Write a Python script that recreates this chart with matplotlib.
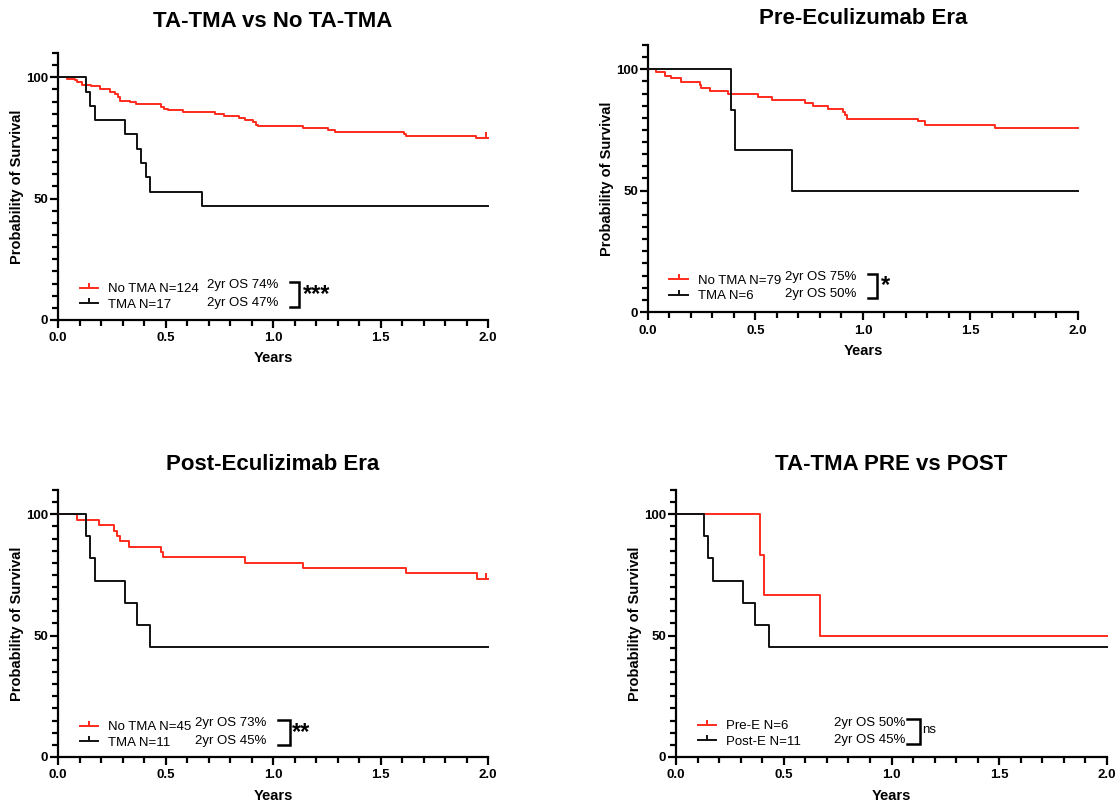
import matplotlib.pyplot as plt
from matplotlib.lines import Line2D
from matplotlib.path import Path
from matplotlib.ticker import MultipleLocator, FormatStrFormatter

plt.rcParams.update({
    "font.family": ["Liberation Sans", "DejaVu Sans"],
    "font.size": 10,
    "axes.linewidth": 1.6,
})

RED = '#FF2B1C'
BLACK = '#111111'
END = 2.0

# censor mark: short vertical tick pointing up from the curve
CENSOR = Path([(0, 0), (0, 1)], [Path.MOVETO, Path.LINETO])

# --- TA-TMA vs No TA-TMA ---
a_notma_t = [0, 0.04, 0.08, 0.09, 0.11, 0.155, 0.195, 0.24, 0.265, 0.28, 0.29,
             0.335, 0.365, 0.48, 0.495, 0.51, 0.58, 0.73, 0.77, 0.84, 0.87,
             0.905, 0.92, 0.93, 1.14, 1.255, 1.29, 1.61, 1.62, 1.945]
a_notma_s = [100, 99.3, 98.9, 97.9, 96.8, 96.2, 95.0, 93.8, 93.2, 92.0, 90.4,
             89.9, 88.9, 87.8, 87.0, 86.3, 85.5, 84.7, 84.0, 83.2, 82.2,
             81.4, 80.5, 79.9, 79.0, 78.4, 77.5, 76.5, 75.8, 74.9]
a_notma_cens = [1.99]
a_tma_t = [0, 0.13, 0.147, 0.171, 0.31, 0.367, 0.388, 0.408, 0.429, 0.67]
a_tma_s = [100, 94.1, 88.2, 82.4, 76.5, 70.6, 64.7, 58.8, 52.9, 47.1]

# --- Pre-Eculizumab Era ---
b_notma_t = [0, 0.039, 0.078, 0.109, 0.155, 0.24, 0.248, 0.287, 0.372, 0.512,
             0.578, 0.729, 0.767, 0.837, 0.907, 0.915, 0.926, 1.256, 1.287, 1.612]
b_notma_s = [100, 98.7, 97.4, 96.2, 94.9, 93.7, 92.4, 91.1, 89.9, 88.6,
             87.3, 86.1, 84.8, 83.5, 82.3, 81.0, 79.7, 78.5, 77.2, 75.9]
tma_pre_t = [0, 0.388, 0.406, 0.67]
tma_pre_s = [100, 83.3, 66.7, 50.0]

# --- Post-Eculizimab Era ---
c_notma_t = [0, 0.088, 0.189, 0.26, 0.274, 0.287, 0.329, 0.481, 0.488, 0.871,
             1.14, 1.62, 1.949]
c_notma_s = [100, 97.8, 95.6, 93.3, 91.1, 88.9, 86.7, 84.4, 82.2, 80.0,
             77.8, 75.6, 73.3]
c_notma_cens = [1.99]
tma_post_t = [0, 0.129, 0.147, 0.171, 0.31, 0.367, 0.429]
tma_post_s = [100, 90.9, 81.8, 72.7, 63.6, 54.5, 45.5]

panels = [
    dict(title="TA-TMA vs No TA-TMA", rect=[0.0519, 0.603, 0.3846, 0.3313], ty=1.118,
         curves=[(a_notma_t, a_notma_s, a_notma_cens, RED, "No TMA N=124", "2yr OS 74%"),
                 (a_tma_t, a_tma_s, [], BLACK, "TMA N=17", "2yr OS 47%")],
         rows=(0.130, 0.064), os_x=0.347, br=(0.540, 0.560), sig="***", sig_x=0.570),
    dict(title="Pre-Eculizumab Era", rect=[0.5796, 0.6129, 0.3846, 0.3313], ty=1.098,
         curves=[(b_notma_t, b_notma_s, [], RED, "No TMA N=79", "2yr OS 75%"),
                 (tma_pre_t, tma_pre_s, [], BLACK, "TMA N=6", "2yr OS 50%")],
         rows=(0.131, 0.066), os_x=0.319, br=(0.512, 0.533), sig="*", sig_x=0.542),
    dict(title="Post-Eculizimab Era", rect=[0.0519, 0.0608, 0.3846, 0.3313], ty=1.094,
         curves=[(c_notma_t, c_notma_s, c_notma_cens, RED, "No TMA N=45", "2yr OS 73%"),
                 (tma_post_t, tma_post_s, [], BLACK, "TMA N=11", "2yr OS 45%")],
         rows=(0.126, 0.060), os_x=0.319, br=(0.512, 0.540), sig="**", sig_x=0.544),
    dict(title="TA-TMA PRE vs POST", rect=[0.6047, 0.0608, 0.3855, 0.3313], ty=1.094,
         curves=[(tma_pre_t, tma_pre_s, [], RED, "Pre-E N=6", "2yr OS 50%"),
                 (tma_post_t, tma_post_s, [], BLACK, "Post-E N=11", "2yr OS 45%")],
         rows=(0.128, 0.064), os_x=0.367, br=(0.536, 0.565), sig="ns", sig_x=0.572),
]


def surv_at(t, s, x):
    val = s[0]
    for ti, si in zip(t, s):
        if ti <= x:
            val = si
    return val


fig = plt.figure(figsize=(11.18, 8.06), dpi=100)

for p in panels:
    ax = fig.add_axes(p["rect"])
    handles = []
    labels = []
    for t, s, cens, col, lab, os_txt in p["curves"]:
        ax.step(t + [END], s + [s[-1]], where='post', color=col, lw=1.4, clip_on=False, zorder=3)
        if cens:
            ax.plot(cens, [surv_at(t, s, c) for c in cens], linestyle='none', marker=CENSOR,
                    markersize=9, markeredgewidth=1.4, color=col, clip_on=False, zorder=3)
        handles.append(Line2D([], [], color=col, lw=1.4, marker=CENSOR, markersize=7,
                              markeredgewidth=1.4))
        labels.append(lab)

    ax.set_xlim(0, 2)
    ax.set_ylim(0, 110)
    ax.set_xticks([0, 0.5, 1.0, 1.5, 2.0])
    ax.xaxis.set_major_formatter(FormatStrFormatter('%.1f'))
    ax.xaxis.set_minor_locator(MultipleLocator(0.1))
    ax.set_yticks([0, 50, 100])
    ax.yaxis.set_minor_locator(MultipleLocator(5))
    ax.spines['top'].set_visible(False)
    ax.spines['right'].set_visible(False)
    ax.tick_params(which='major', direction='out', length=6, width=1.6)
    ax.tick_params(which='minor', direction='out', length=4, width=1.6)
    ax.tick_params(axis='x', which='major', pad=3)
    ax.tick_params(axis='y', which='major', pad=1)
    for lbl in ax.get_xticklabels() + ax.get_yticklabels():
        lbl.set_fontweight('bold')
        lbl.set_fontsize(9.5)

    ax.set_xlabel("Years", fontsize=10.5, fontweight='bold')
    ax.set_ylabel("Probability of Survival", fontsize=10.5, fontweight='bold')
    ax.xaxis.set_label_coords(0.5, -0.118)
    ax.yaxis.set_label_coords(-0.078, 0.5)

    ax.text(0.5, p["ty"], p["title"], transform=ax.transAxes, ha='center', va='center',
            fontsize=16, fontweight='bold')

    # legend
    r1, r2 = p["rows"]
    ax.legend(handles, labels, loc='lower left', bbox_to_anchor=(0.05, r2 - 0.03),
              frameon=False, fontsize=9.5, handlelength=1.4, handletextpad=0.75,
              labelspacing=0.25, borderpad=0, borderaxespad=0)
    for (t, s, cens, col, lab, os_txt), ry in zip(p["curves"], (r1, r2)):
        ax.text(p["os_x"], ry, os_txt, transform=ax.transAxes, ha='left', va='center',
                fontsize=9.5)

    # significance bracket
    x0, x1 = p["br"]
    ytop, ybot = r1 + 0.013, r2 - 0.015
    ax.plot([x0, x1, x1, x0], [ytop, ytop, ybot, ybot], transform=ax.transAxes,
            color='black', lw=1.8, clip_on=False, solid_joinstyle='miter')
    if p["sig"] == "ns":
        ax.text(p["sig_x"], (r1 + r2) / 2 + 0.004, "ns", transform=ax.transAxes,
                ha='left', va='center', fontsize=9.5)
    else:
        ax.text(p["sig_x"], (ytop + ybot) / 2, p["sig"], transform=ax.transAxes,
                ha='left', va='center', fontsize=17, fontweight='bold')

fig.savefig("out.png", dpi=100)
